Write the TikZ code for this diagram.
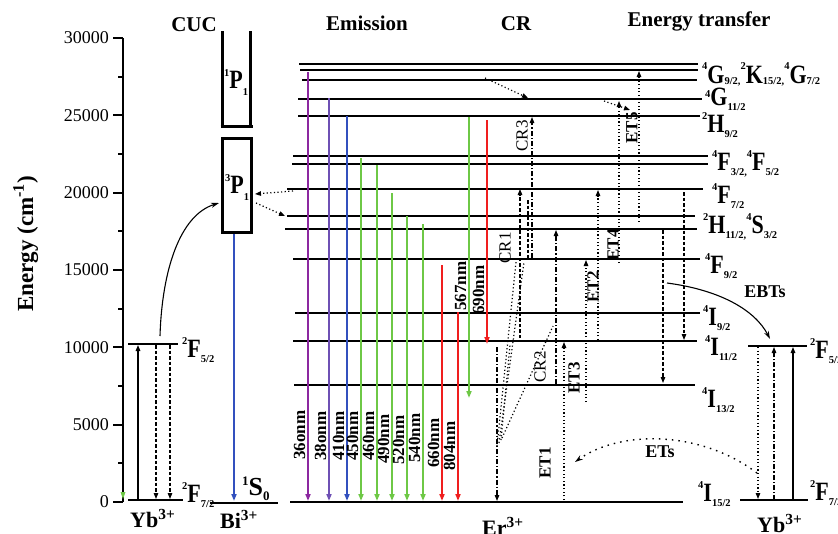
\documentclass[tikz,border=0pt]{standalone}
\usepackage{fontspec}
\setmainfont{Liberation Serif}
\usetikzlibrary{arrows.meta}
\definecolor{cpur}{RGB}{140,40,160}
\definecolor{cvio}{RGB}{110,80,180}
\definecolor{cblu}{RGB}{50,80,190}
\definecolor{cgrn}{RGB}{110,200,70}
\definecolor{cred}{RGB}{240,30,30}
\newcommand\lvs[2][13pt]{\raisebox{#1}{\fontsize{10.5}{10.5}\selectfont #2}}
\newcommand\lvb[2][-5pt]{\raisebox{#1}{\fontsize{10.5}{10.5}\selectfont #2}}
\newcommand\lvmain[1]{\scalebox{1}[1.2]{#1}}
\newcommand\term[3]{\lvs{#1}\lvmain{#2}\lvb{#3}}
\begin{document}
\begin{tikzpicture}[x=1pt,y=-1pt,
  lev/.style={line width=2.2pt},
  bibox/.style={line width=3pt},
  axis/.style={line width=1.8pt},
  emi/.style={line width=2pt,-{Triangle[length=7pt,width=5pt]}},
  tip/.style={-{Triangle[length=6pt,width=4.5pt]}},
  dotl/.style={line width=1.2pt,dash pattern=on 1.2pt off 2.4pt},
  dashl/.style={line width=1.2pt,dash pattern=on 3.5pt off 2pt},
  ddot/.style={line width=1.2pt,dash pattern=on 5pt off 2pt on 1.2pt off 2pt},
  head/.style={font=\bfseries\fontsize{21}{21}\selectfont,anchor=base},
  lvl/.style={font=\bfseries\fontsize{22}{22}\selectfont,anchor=base west,inner sep=0pt},
  wl/.style={font=\bfseries\fontsize{17}{17}\selectfont,rotate=90,anchor=base,inner sep=0pt},
  crl/.style={font=\fontsize{17}{17}\selectfont,rotate=90},
  etl/.style={font=\bfseries\fontsize{17}{17}\selectfont,rotate=90},
  tickl/.style={font=\fontsize{18}{18}\selectfont,anchor=east,inner sep=0pt}
]
\useasboundingbox (0,0) rectangle (838,533);

% ---------- axis ----------
\draw[axis] (123,38) -- (123,502);
\foreach \i/\lab in {0/0,1/5000,2/10000,3/15000,4/20000,5/25000,6/30000}{
  \draw[axis] (113,{502-77.333*\i}) -- (123,{502-77.333*\i});
  \node[tickl] (t\i) at (109,{502-77.333*\i}) {\lab};
}
\foreach \i in {0,...,5}{
  \draw[axis] (118,{502-77.333*\i-38.667}) -- (123,{502-77.333*\i-38.667});
}
\node[font=\bfseries\fontsize{23}{23}\selectfont,rotate=90,anchor=base] (ylab) at (33,244) {Energy (cm\textsuperscript{-1})};
\fill[cgrn] (120.5,492) -- (125.5,492) -- (123,499) -- cycle;

% ---------- headings ----------
\node[head] (hcuc) at (194,31) {CUC};
\node[head] (hemi) at (367,30) {Emission};
\node[head] (hcr) at (516,30) {CR};
\node[head] (het) at (699,26) {Energy transfer};

% ---------- Yb (left) ----------
\draw[lev] (128,344) -- (178,344);
\draw[lev] (128,500) -- (183,500);
\draw[line width=1.4pt,tip] (138,500) -- (138,345);
\draw[dashl,tip] (156,345) -- (156,499);
\draw[dashl,tip] (170,345) -- (170,499);
\node[lvl] (yb5l) at (182,357) {\term{2}{F}{5/2}};
\node[lvl] (yb7l) at (182,502) {\term{2}{F}{7/2}};
\node[font=\bfseries\fontsize{22}{22}\selectfont,anchor=base west,inner sep=0pt] (ybl) at (130,527) {Yb\textsuperscript{3+}};

% ---------- Bi ----------
\draw[bibox] (222,31) -- (222,126);
\draw[bibox] (250,31) -- (250,126);
\draw[bibox] (220.5,126) -- (253,126);
\draw[bibox] (222,138) rectangle (251,232);
\draw[lev] (210,503) -- (278,503);
\node[lvl] (p1) at (224,88) {\lvs[12pt]{1}\lvmain{P}\lvb[-7pt]{1}};
\node[lvl] (p3) at (225,193) {\lvs[12pt]{3}\lvmain{P}\lvb[-7pt]{1}};
\node[font=\bfseries\fontsize{26}{26}\selectfont,anchor=base west,inner sep=0pt] (s0) at (242,495) {\raisebox{10pt}{\fontsize{13}{13}\selectfont 1}S\raisebox{-5pt}{\fontsize{13}{13}\selectfont 0}};
\node[font=\bfseries\fontsize{22}{22}\selectfont,anchor=base west,inner sep=0pt] (bil) at (220,528) {Bi\textsuperscript{3+}};
\draw[line width=2pt,color=cblu,-{Triangle[length=7pt,width=5pt]}] (234,234) -- (234,501);
\draw[line width=1.1pt,-{Stealth[length=8pt,width=5pt]}] (160,336) .. controls (162,270) and (180,215) .. (219,203);
\draw[dotl,tip] (293,191) -- (255,194);
\draw[dotl,tip] (256,203) -- (285,216);

% ---------- Er levels ----------
\foreach \y/\a/\b in {64/299/698, 70/300/698, 80/302/697, 99/298/702, 116/298/700,
  156/293/708, 164/292/708, 189/287/703, 216/287/695, 229/285/697, 259/293/700,
  313/295/700, 341/293/697, 385/294/695, 502/290/683}{
  \draw[lev] (\a,\y) -- (\b,\y);
}

% ---------- emission ----------
\foreach \x/\yt/\c/\lab/\ly in {
 308/72/cpur/36onm/435, 329/98/cvio/38onm/436, 347/116/cblu/410nm/436,
 361/158/cgrn/450nm/436, 377/165/cgrn/460nm/436, 392/193/cgrn/490nm/439,
 407/216/cgrn/520nm/440, 423/224/cgrn/540nm/438, 442/265/cred/660nm/443,
 458/312/cred/804nm/446}{
  \draw[emi,draw=\c] (\x,\yt) -- (\x,501);
  \node[wl] at (\x-3,\ly) {\lab};
}
\draw[emi,draw=cgrn] (469,117) -- (469,398);
\node[wl] (w567) at (466,286) {567nm};
\draw[emi,draw=cred] (487,120) -- (487,344);
\node[wl] (w690) at (484,290) {690nm};

% ---------- CR ----------
\draw[ddot,tip] (532,258) -- (532,117);
\draw[dashl] (528,200) -- (528,258);
\draw[dashl,tip] (520,338) -- (520,189);
\draw[dotl] (497,446) -- (516,262);
\draw[dotl] (499,443) -- (524,262);
\draw[dotl] (501,440) -- (510,345);
\draw[dotl] (502,438) -- (553,326);
\draw[ddot,tip] (497,347) -- (497,501);
\draw[ddot,tip] (556,384) -- (556,230);
\draw[dotl,tip] (485,78) -- (528,98);
\node[crl] (cr3) at (522,136) {CR3};
\node[crl] (cr1) at (505,248) {CR1};
\node[crl] (cr2) at (540,367) {CR2};

% ---------- ET ----------
\draw[dotl,tip] (564,500) -- (564,342);
\draw[dotl,tip] (586,402) -- (586,260);
\draw[dotl,tip] (598,340) -- (598,190);
\draw[dotl,tip] (619,263) -- (619,101);
\draw[dotl,tip] (639,222) -- (639,71);
\draw[dotl,tip] (604,101) -- (630,110);
\draw[dashl,tip] (663,230) -- (663,383);
\draw[dashl,tip] (684,192) -- (684,340);
\node[etl] (et1) at (545,463) {ET1};
\node[etl] (et2) at (593,287) {ET2};
\node[etl] (et3) at (574,378) {ET3};
\node[etl] (et4) at (613,245) {ET4};
\node[etl] (et5) at (632,128) {ET5};

% ---------- Er labels ----------
\node[lvl] (lg9) at (702,83) {\lvs[14pt]{4}\lvmain{G}\lvb[-1pt]{9/2,}\lvs[14pt]{2}\lvmain{K}\lvb[-1pt]{15/2,}\lvs[14pt]{4}\lvmain{G}\lvb[-1pt]{7/2}};
\node[lvl] (lg11) at (705,105) {\lvs[8pt]{4}\lvmain{G}\lvb[-5pt]{11/2}};
\node[lvl] (lh9) at (702,132) {\term{2}{H}{9/2}};
\node[lvl] (lf3) at (712,170) {\term{4}{F}{3/2,}\term{4}{F}{5/2}};
\node[lvl] (lf7) at (712,203) {\term{4}{F}{7/2}};
\node[lvl] (lh11) at (703,233) {\term{2}{H}{11/2,}\term{4}{S}{3/2}};
\node[lvl] (lf9) at (705,273) {\term{4}{F}{9/2}};
\node[lvl] (li9) at (703,325) {\term{4}{I}{9/2}};
\node[lvl] (li11) at (705,355) {\term{4}{I}{11/2}};
\node[lvl] (li13) at (702,407) {\term{4}{I}{13/2}};
\node[lvl] (li15) at (698,501) {\term{4}{I}{15/2}};
\node[font=\bfseries\fontsize{22}{22}\selectfont,anchor=base west,inner sep=0pt] (erl) at (482,535) {Er\textsuperscript{3+}};

% ---------- Yb (right) ----------
\draw[lev] (748,346) -- (807,346);
\draw[lev] (740,500) -- (808,500);
\draw[dotl,tip] (758,347) -- (758,499);
\draw[ddot,tip] (774,500) -- (774,347);
\draw[line width=1.4pt,tip] (793,500) -- (793,347);
\node[lvl] (yb5r) at (810,358) {\term{2}{F}{5/2}};
\node[lvl] (yb7r) at (810,500) {\term{2}{F}{7/2}};
\node[font=\bfseries\fontsize{22}{22}\selectfont,anchor=base west,inner sep=0pt] (ybr) at (757,532) {Yb\textsuperscript{3+}};

\draw[line width=1.1pt,-{Stealth[length=8pt,width=5pt]}] (667,283) .. controls (720,290) and (755,310) .. (770,339);
\node[font=\bfseries\fontsize{18}{18}\selectfont] (ebt) at (765,292) {EBTs};
\draw[line width=1.4pt,dash pattern=on 1.5pt off 5pt,-{Stealth[length=8pt,width=5pt]}] (757,473) .. controls (700,430) and (620,430) .. (575,462);
\node[font=\bfseries\fontsize{18}{18}\selectfont] (ets) at (660,452) {ETs};
\end{tikzpicture}
\end{document}
